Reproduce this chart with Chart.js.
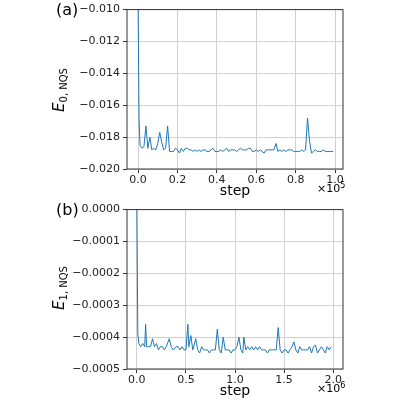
<!DOCTYPE html>
<html><head><meta charset="utf-8">
<script src="https://cdn.jsdelivr.net/npm/chart.js@4"></script>
<style>
body{margin:0;width:400px;height:400px;background:#fff;font-family:"DejaVu Sans",sans-serif;position:relative;overflow:hidden}
.box{position:absolute;left:0;width:400px;height:200px}
.lab{position:absolute;font-size:16px;color:#000;line-height:1}
.yt{position:absolute;width:70px;height:20px;line-height:20px;text-align:center;font-size:15px;transform:rotate(-90deg);transform-origin:center;white-space:nowrap;font-style:italic}
.yt sub{font-style:normal;font-size:10px;vertical-align:-3px;line-height:0}
.mul{position:absolute;font-size:11px;line-height:1}
.mul sup{font-size:8px;vertical-align:4px;line-height:0}
</style></head><body>
<div class="box" style="top:0"><canvas id="c1"></canvas></div>
<div class="box" style="top:200px"><canvas id="c2"></canvas></div>
<div class="lab" style="left:56px;top:2px">(a)</div>
<div class="lab" style="left:56px;top:202px">(b)</div>
<div class="yt" style="left:24px;top:80px">E<sub>0, NQS</sub></div>
<div class="yt" style="left:24px;top:278px">E<sub>1, NQS</sub></div>
<div class="mul" style="left:317px;top:183px">×10<sup>5</sup></div>
<div class="mul" style="left:317px;top:383px">×10<sup>6</sup></div>
<script>
// (a) step in units of 1e5, energy
const stepsA = [0, 0.005, 0.01, 0.02, 0.03, 0.04, 0.05, 0.06, 0.07, 0.08, 0.09, 0.10, 0.11, 0.12, 0.13, 0.14, 0.15, 0.16, 0.17, 0.18, 0.19, 0.20, 0.21, 0.22, 0.23, 0.24, 0.25, 0.26, 0.27, 0.28, 0.29, 0.30, 0.31, 0.32, 0.33, 0.34, 0.35, 0.36, 0.37, 0.38, 0.39, 0.40, 0.41, 0.42, 0.43, 0.44, 0.45, 0.46, 0.47, 0.48, 0.49, 0.50, 0.51, 0.52, 0.53, 0.54, 0.55, 0.56, 0.57, 0.58, 0.59, 0.60, 0.61, 0.62, 0.63, 0.64, 0.65, 0.66, 0.67, 0.68, 0.69, 0.70, 0.71, 0.72, 0.73, 0.74, 0.75, 0.76, 0.77, 0.78, 0.79, 0.80, 0.81, 0.82, 0.83, 0.84, 0.85, 0.86, 0.87, 0.88, 0.89, 0.90, 0.91, 0.92, 0.93, 0.94, 0.95, 0.96, 0.97, 0.98, 0.99];
const energyA = [-0.0090, -0.0168, -0.0185, -0.0187, -0.0186, -0.0173, -0.0187, -0.0180, -0.0188, -0.0187, -0.0188, -0.0184, -0.0177, -0.0183, -0.0188, -0.0187, -0.0173, -0.0189, -0.0189, -0.0189, -0.0187, -0.0188, -0.0190, -0.0187, -0.0189, -0.0187, -0.0187, -0.0188, -0.0188, -0.0189, -0.0188, -0.0189, -0.0188, -0.0189, -0.0188, -0.0188, -0.0189, -0.0189, -0.0188, -0.0187, -0.0189, -0.0189, -0.0189, -0.0188, -0.0189, -0.0188, -0.0187, -0.0189, -0.0188, -0.0188, -0.0188, -0.0189, -0.0188, -0.0187, -0.0188, -0.0188, -0.0188, -0.0187, -0.0187, -0.0189, -0.0189, -0.0188, -0.0189, -0.0188, -0.0189, -0.0190, -0.0188, -0.0188, -0.0188, -0.0188, -0.0188, -0.0184, -0.0189, -0.0188, -0.0189, -0.0188, -0.0189, -0.0188, -0.0188, -0.0188, -0.0189, -0.0189, -0.0189, -0.0189, -0.0188, -0.0189, -0.0188, -0.0168, -0.0182, -0.0190, -0.0189, -0.0188, -0.0189, -0.0189, -0.0189, -0.0188, -0.0189, -0.0189, -0.0189, -0.0189, -0.0189];
const yTicksA = [-0.010, -0.012, -0.014, -0.016, -0.018, -0.020];
const xTicksA = [0, 0.2, 0.4, 0.6, 0.8, 1.0];

// (b) step in units of 1e6, energy
const stepsB = [0, 0.01, 0.02, 0.04, 0.06, 0.08, 0.09, 0.10, 0.12, 0.14, 0.16, 0.18, 0.20, 0.22, 0.24, 0.26, 0.28, 0.30, 0.33, 0.35, 0.37, 0.40, 0.42, 0.44, 0.46, 0.48, 0.50, 0.52, 0.53, 0.55, 0.57, 0.60, 0.62, 0.64, 0.66, 0.68, 0.70, 0.72, 0.74, 0.76, 0.78, 0.80, 0.82, 0.84, 0.86, 0.88, 0.90, 0.92, 0.94, 0.96, 0.98, 1.00, 1.02, 1.04, 1.06, 1.08, 1.09, 1.11, 1.13, 1.15, 1.17, 1.19, 1.21, 1.23, 1.25, 1.27, 1.29, 1.31, 1.33, 1.35, 1.37, 1.39, 1.42, 1.44, 1.46, 1.48, 1.50, 1.52, 1.54, 1.56, 1.58, 1.60, 1.62, 1.64, 1.66, 1.68, 1.70, 1.72, 1.74, 1.76, 1.78, 1.80, 1.82, 1.84, 1.86, 1.88, 1.90, 1.92, 1.94, 1.96, 1.98];
const energyB = [0.00005, -0.00039, -0.00042, -0.00043, -0.00042, -0.00043, -0.00036, -0.00043, -0.00043, -0.00043, -0.000405, -0.00043, -0.00042, -0.00044, -0.00043, -0.00043, -0.00044, -0.00043, -0.000405, -0.00043, -0.00044, -0.00043, -0.00043, -0.00044, -0.00043, -0.00044, -0.00044, -0.00036, -0.00043, -0.000395, -0.00044, -0.000405, -0.00044, -0.00045, -0.00043, -0.00044, -0.00044, -0.00044, -0.00045, -0.00044, -0.00044, -0.00044, -0.000375, -0.00044, -0.00045, -0.0004, -0.00044, -0.00044, -0.00044, -0.00045, -0.00044, -0.00044, -0.00043, -0.0004, -0.00044, -0.00045, -0.0004, -0.00044, -0.00043, -0.00044, -0.00043, -0.00044, -0.00043, -0.00044, -0.00043, -0.00044, -0.00044, -0.00044, -0.00045, -0.00044, -0.00044, -0.00044, -0.00044, -0.00037, -0.00044, -0.00045, -0.00044, -0.00044, -0.00045, -0.00044, -0.00043, -0.000415, -0.00044, -0.00045, -0.00043, -0.00044, -0.00044, -0.00044, -0.00044, -0.00043, -0.00045, -0.00043, -0.000425, -0.00045, -0.00044, -0.00043, -0.00044, -0.00045, -0.00043, -0.00044, -0.00043];
const yTicksB = [0, -0.0001, -0.0002, -0.0003, -0.0004, -0.0005];
const xTicksB = [0, 0.5, 1.0, 1.5, 2.0];

const frame = {
  id: "frame",
  afterDraw(chart) {
    const { ctx, chartArea: a } = chart;
    ctx.save();
    ctx.strokeStyle = "#333";
    ctx.lineWidth = 1;
    ctx.strokeRect(a.left, a.top, a.right - a.left, a.bottom - a.top);
    ctx.restore();
  },
};

function fmtMinus(v, d) {
  const s = Math.abs(v).toFixed(d);
  return (v < -1e-12 ? "\u2212" : "") + s;
}

function draw(id, xs, ys, xt, yt, xmin, xmax, ymin, ymax, yd) {
  new Chart(document.getElementById(id), {
    type: "line",
    data: { datasets: [{ data: xs.map((x, i) => ({ x, y: ys[i] })), borderColor: "#1f77b4", borderWidth: 1, pointRadius: 0, tension: 0 }] },
    options: {
      responsive: true, maintainAspectRatio: false, animation: false,
      layout: { padding: { top: 9, right: 57, left: 0, bottom: 0 } },
      plugins: { legend: { display: false }, tooltip: { enabled: false } },
      scales: {
        x: {
          type: "linear", min: xmin, max: xmax,
          afterBuildTicks: (ax) => { ax.ticks = xt.map((v) => ({ value: v })); },
          afterFit: (ax) => { ax.height = 31; },
          ticks: { color: "#222", font: { family: "DejaVu Sans", size: 11 }, padding: 1, maxRotation: 0, callback: (v) => v.toFixed(1) },
          grid: { color: "#d0d0d0", tickColor: "#333", tickLength: 4 },
          border: { display: false },
          title: { display: true, text: "step", color: "#000", font: { family: "DejaVu Sans", size: 14 }, padding: 0 },
        },
        y: {
          min: ymin, max: ymax,
          afterBuildTicks: (ax) => { ax.ticks = yt.map((v) => ({ value: v })); },
          afterFit: (ax) => { ax.width = 127; },
          ticks: { color: "#222", font: { family: "DejaVu Sans", size: 11 }, padding: 3, callback: (v) => fmtMinus(v, yd) },
          grid: { color: "#d0d0d0", tickColor: "#333", tickLength: 4 },
          border: { display: false },
        },
      },
    },
    plugins: [frame],
  });
}

draw("c1", stepsA, energyA, xTicksA, yTicksA, -0.056, 1.04, -0.020, -0.010, 3);
draw("c2", stepsB, energyB, xTicksB, yTicksB, -0.1, 2.1, -0.0005, 0, 4);
</script>
</body></html>
